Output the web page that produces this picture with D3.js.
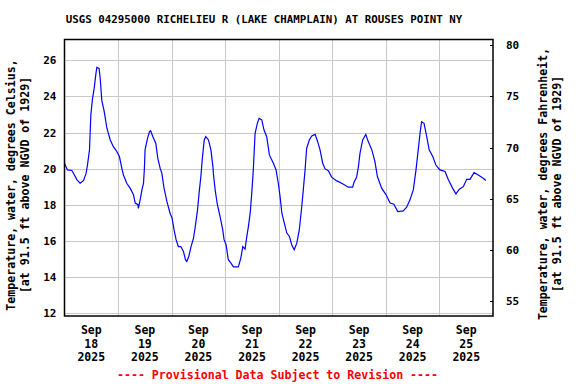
<!DOCTYPE html>
<html>
<head>
<meta charset="utf-8">
<script src="https://cdn.jsdelivr.net/npm/d3@7"></script>
<style>
    body { margin: 0; background: #fff; }
    svg text { font-family: "DejaVu Sans Mono", "Liberation Mono", monospace; font-weight: bold; fill: #000; }
</style>
</head>
<body>
<div id="chart"></div>
<script>
'use strict';

// hours after 2025-09-18 00:00
const hours = [
    0, 1.3, 3.3, 4.8, 5.6, 7.0, 8.5, 9.7, 10.3, 11.2, 11.8, 12.5, 13.3, 14.1, 14.5, 15.5, 16.0, 16.7,
    17.8, 19.0, 20.5, 21.9, 23.5, 24.6, 25.7, 26.4, 27.9, 29.4, 30.9, 31.7, 32.9, 33.1, 33.9, 34.7,
    35.4, 35.8, 36.1, 37.2, 38.1, 38.6, 39.6, 40.9, 41.8, 42.9, 43.6, 44.6, 45.9, 47.3, 48.2, 49.1,
    50.0, 51.0, 52.1, 53.3, 54.2, 54.8, 55.7, 56.7, 57.8, 58.5, 59.6, 60.3, 61.1, 61.7, 62.6, 63.3,
    64.5, 65.6, 66.5, 66.7, 67.5, 68.5, 69.7, 70.9, 71.5, 72.4, 73.4, 74.5, 75.7, 77.9, 79.0, 79.9,
    80.9, 81.7, 82.4, 83.2, 83.9, 84.6, 85.4, 86.4, 87.2, 88.4, 89.4, 90.6, 91.8, 93.6, 94.8, 95.8,
    96.6, 97.4, 98.5, 99.6, 100.8, 101.8, 102.9, 104.1, 105.2, 106.3, 107.0, 107.8, 108.5, 109.7,
    110.8, 112.3, 113.3, 114.5, 115.7, 116.7, 118.2, 119.7, 122.0, 124.2, 127.2, 129.1, 129.7, 130.9,
    131.7, 132.4, 133.6, 135.0, 136.1, 137.7, 139.1, 140.2, 142.1, 144.1, 145.9, 147.6, 149.3, 151.8,
    153.3, 154.8, 156.3, 157.5, 158.5, 159.3, 160.0, 161.1, 162.3, 163.4, 165.0, 166.4, 168.2, 170.5,
    172.0, 173.9, 175.4, 176.9, 178.7, 180.2, 181.7, 183.5, 185.4, 187.6, 188.8
];

// water temperature, degrees Celsius
const tempC = [
    20.3, 19.93, 19.9, 19.56, 19.38, 19.19, 19.33, 19.75, 20.2, 21.04, 22.97, 23.84, 24.45, 25.28, 25.61, 25.56, 25.0, 23.8,
    23.16, 22.24, 21.59, 21.22, 20.94, 20.67, 20.02, 19.65, 19.19, 18.92, 18.55, 18.09, 18.0, 17.8, 18.27, 18.82,
    19.19, 20.0, 21.04, 21.68, 22.05, 22.1, 21.77, 21.41, 20.58, 20.0, 19.75, 18.92, 18.17, 17.53, 17.26, 16.6,
    16.06, 15.68, 15.68, 15.41, 14.95, 14.85, 15.13, 15.68, 16.15, 16.7, 17.71, 18.64, 19.56, 20.48, 21.59, 21.77,
    21.59, 21.04, 20.11, 19.75, 18.82, 18.0, 17.35, 16.6, 16.06, 15.78, 14.95, 14.77, 14.55, 14.55, 15.04, 15.68,
    15.54, 16.24, 16.79, 17.53, 18.64, 19.93, 21.96, 22.51, 22.79, 22.7, 22.14, 21.77, 20.76, 20.3, 19.93, 19.19,
    18.45, 17.53, 16.98, 16.43, 16.24, 15.78, 15.5, 15.87, 16.6, 17.89, 18.82, 19.93, 21.13, 21.59,
    21.81, 21.9, 21.55, 21.04, 20.3, 20.0, 19.89, 19.53, 19.32, 19.19, 18.97, 18.97, 19.23, 19.53,
    20.11, 20.85, 21.59, 21.9, 21.5, 21.04, 20.39, 19.56, 18.92, 18.55, 18.09, 18.03, 17.62, 17.66,
    17.86, 18.27, 18.82, 19.93, 21.04, 21.96, 22.6, 22.51, 21.77, 21.04, 20.67, 20.2, 19.93, 19.84,
    19.38, 18.92, 18.6, 18.86, 19.0, 19.41, 19.41, 19.78, 19.65, 19.47, 19.34
];

const celsiusTicks = [12, 14, 16, 18, 20, 22, 24, 26];
const fahrenheitTicks = [55, 60, 65, 70, 75, 80];
const dayLabels = ['18', '19', '20', '21', '22', '23', '24', '25'];
const celsiusRange = [11.83, 27.16];
const fahrenheitRange = [53.57, 80.56];

const title = 'USGS 04295000 RICHELIEU R (LAKE CHAMPLAIN) AT ROUSES POINT NY';
const leftTitle = ['Temperature, water, degrees Celsius,', '[at 91.5 ft above NGVD of 1929]'];
const rightTitle = ['Temperature, water, degrees Fahrenheit,', '[at 91.5 ft above NGVD of 1929]'];
const footer = '---- Provisional Data Subject to Revision ----';

const width = 576;
const height = 384;
const margin = { top: 39.5, right: 83, bottom: 68, left: 64.5 };

$ready();

function $ready() {
    const start = Date.UTC(2025, 8, 18);
    const hour = 3600 * 1000;
    const data = hours.map((h, i) => ({ date: new Date(start + h * hour), value: tempC[i] }));
    const days = dayLabels.map((d, i) => new Date(start + i * 24 * hour));

    const svg = d3.select('#chart').append('svg')
        .attr('width', width)
        .attr('height', height);

    const x = d3.scaleUtc()
        .domain([new Date(start), new Date(start + 8 * 24 * hour)])
        .range([margin.left, width - margin.right]);

    const y = d3.scaleLinear()
        .domain(celsiusRange)
        .range([height - margin.bottom, margin.top]);

    const yF = d3.scaleLinear()
        .domain(fahrenheitRange)
        .range([height - margin.bottom, margin.top]);

    // grid
    const grid = svg.append('g').attr('stroke', '#c8c8c8').attr('stroke-width', 1);

    grid.selectAll('.hgrid')
        .data(celsiusTicks)
        .join('line')
        .attr('x1', margin.left)
        .attr('x2', width - margin.right)
        .attr('y1', d => Math.round(y(d)) + 0.5)
        .attr('y2', d => Math.round(y(d)) + 0.5);

    grid.selectAll('.vgrid')
        .data(days.slice(1))
        .join('line')
        .attr('x1', d => Math.round(x(d)) + 0.5)
        .attr('x2', d => Math.round(x(d)) + 0.5)
        .attr('y1', margin.top)
        .attr('y2', height - margin.bottom);

    // series
    const line = d3.line()
        .x(d => x(d.date))
        .y(d => y(d.value));

    svg.append('path')
        .datum(data)
        .attr('fill', 'none')
        .attr('stroke', '#0000ff')
        .attr('stroke-width', 1.2)
        .attr('d', line);

    // frame
    svg.append('rect')
        .attr('x', margin.left)
        .attr('y', margin.top)
        .attr('width', width - margin.left - margin.right)
        .attr('height', height - margin.top - margin.bottom)
        .attr('fill', 'none')
        .attr('stroke', '#000')
        .attr('stroke-width', 1.5);

    // left axis labels
    svg.append('g')
        .selectAll('text')
        .data(celsiusTicks)
        .join('text')
        .attr('x', margin.left - 8)
        .attr('y', d => y(d) + 4)
        .attr('text-anchor', 'end')
        .style('font-size', '11px')
        .text(d => d);

    // right axis: inward ticks + labels
    const right = width - margin.right;
    svg.append('g')
        .selectAll('line')
        .data(fahrenheitTicks)
        .join('line')
        .attr('x1', right - 3)
        .attr('x2', right)
        .attr('y1', d => Math.round(yF(d)) + 0.5)
        .attr('y2', d => Math.round(yF(d)) + 0.5)
        .attr('stroke', '#000');

    svg.append('g')
        .selectAll('text')
        .data(fahrenheitTicks)
        .join('text')
        .attr('x', right + 13)
        .attr('y', d => yF(d) + 4)
        .style('font-size', '11px')
        .text(d => d);

    // x axis labels at noon of each day
    const xLabels = svg.append('g')
        .selectAll('text')
        .data(days)
        .join('text')
        .attr('text-anchor', 'middle')
        .attr('transform', d => `translate(${x(new Date(+d + 12 * hour))},0)`)
        .style('font-size', '11.5px');

    xLabels.append('tspan').attr('x', 0).attr('y', 334).text('Sep');
    xLabels.append('tspan').attr('x', 0).attr('y', 347.5).text((d, i) => dayLabels[i]);
    xLabels.append('tspan').attr('x', 0).attr('y', 360.5).text('2025');

    // titles
    svg.append('text')
        .attr('x', 264)
        .attr('y', 23)
        .attr('text-anchor', 'middle')
        .style('font-size', '10.8px')
        .text(title);

    axisTitle(svg, leftTitle, [14.5, 29], 185);
    axisTitle(svg, rightTitle, [546.5, 560.5], 184);

    svg.append('text')
        .attr('x', 277.5)
        .attr('y', 379)
        .attr('text-anchor', 'middle')
        .style('font-size', '11.6px')
        .style('fill', '#ff0000')
        .text(footer);
}

function axisTitle(svg, lines, xs, cy) {
    lines.forEach((t, i) => {
        svg.append('text')
            .attr('transform', `translate(${xs[i]},${cy}) rotate(-90)`)
            .attr('text-anchor', 'middle')
            .style('font-size', '11.6px')
            .text(t);
    });
}
</script>
</body>
</html>
